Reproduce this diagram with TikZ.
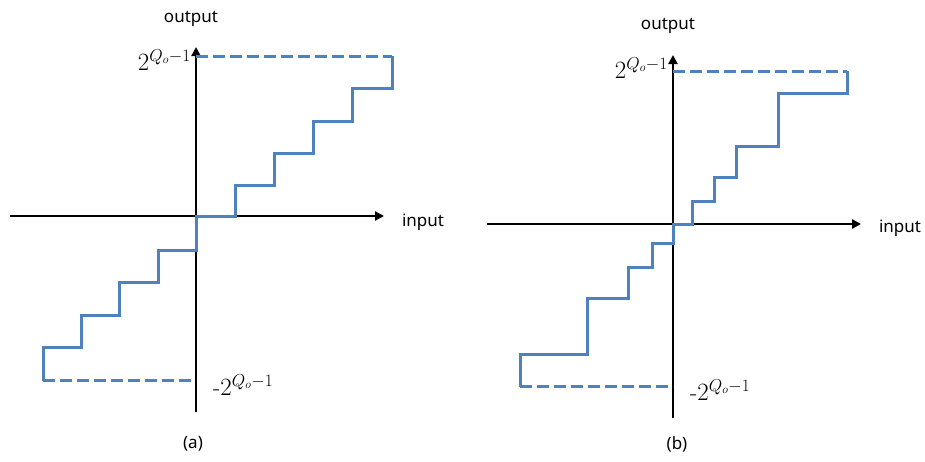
\documentclass[tikz,border=0pt]{standalone}
\usepackage{fontspec}
\newfontfamily\labfont{Noto Sans}
\usetikzlibrary{arrows.meta}
\definecolor{stepblue}{RGB}{79,129,189}
\tikzset{
  axis/.style={line width=2.8pt,-{Triangle[length=9pt,width=9pt]}},
  axisplain/.style={line width=2.8pt},
  stair/.style={stepblue,line width=3pt,line join=miter},
  limit/.style={stepblue,line width=3pt,dash pattern=on 12pt off 5pt},
  word/.style={font=\labfont\fontsize{17}{20}\selectfont,inner sep=0pt},
  mlabel/.style={font=\fontsize{24}{28}\selectfont,inner sep=0pt},
}
\begin{document}
\begin{tikzpicture}[x=1pt,y=-1pt]
\useasboundingbox (0,0) rectangle (925,461);
% ---------- panel (a)
\coordinate (ayb) at (196,412);
\coordinate (ayt) at (196,47);
\coordinate (axl) at (10,216);
\coordinate (axr) at (384,216);
\coordinate (ao) at (196,216);
\draw[axisplain] (ayb) -- (ao);
\draw[axis] (ao) -- (ayt);
\draw[axis] (axl) -- (axr);
\draw[limit] (196,56) -- (392,56);
\draw[limit] (43,380) -- (196,380);
\draw[stair] (392,56)--(392,88)--(352,88)--(352,121)--(313,121)--(313,153)--(274,153)--(274,185)--(235,185)--(235,216)--(196,216)--(196,250)--(158,250)--(158,282)--(119,282)--(119,315)--(81,315)--(81,347)--(43,347)--(43,381);
\node[word] (aout) at (191,19) {output};
\node[word] (ain) at (423,222) {input};
\node[mlabel,anchor=east] (atop) at (191,60) {$2^{Q_o-1}$};
\node[mlabel,anchor=west] (abot) at (213,385) {-$2^{Q_o-1}$};
\node[word] (acap) at (193,444) {(a)};
% ---------- panel (b)
\coordinate (byb) at (673,418);
\coordinate (byt) at (673,55);
\coordinate (bxl) at (487,224);
\coordinate (bxr) at (861,224);
\coordinate (bo) at (673,224);
\draw[axisplain] (byb) -- (bo);
\draw[axis] (bo) -- (byt);
\draw[axis] (bxl) -- (bxr);
\draw[limit] (673,71) -- (847,71);
\draw[limit] (520,386) -- (673,386);
\draw[stair] (847,71)--(847,93)--(778,93)--(778,146)--(736,146)--(736,177)--(714,177)--(714,201)--(692,201)--(692,224)--(673,224)--(673,243)--(652,243)--(652,267)--(628,267)--(628,298)--(587,298)--(587,354)--(520,354)--(520,387);
\node[word] (bout) at (668,26) {output};
\node[word] (bin) at (900,228) {input};
\node[mlabel,anchor=east] (btop) at (668,68) {$2^{Q_o-1}$};
\node[mlabel,anchor=west] (bbot) at (690,390) {-$2^{Q_o-1}$};
\node[word] (bcap) at (677,444) {(b)};
\end{tikzpicture}
\end{document}
